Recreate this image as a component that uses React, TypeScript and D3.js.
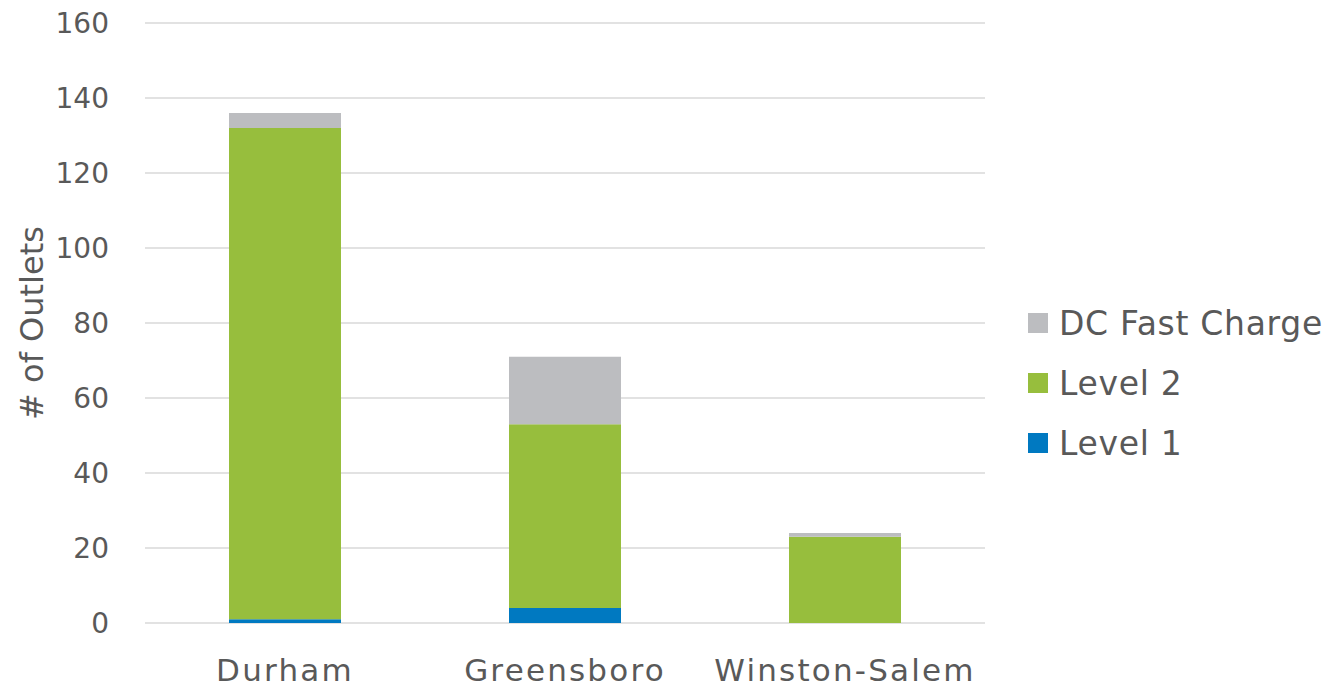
import React from "react";
import * as d3 from "d3";

const categories = ["Durham", "Greensboro", "Winston-Salem"];
const level1 = [1, 4, 0];
const level2 = [131, 49, 23];
const dcFast = [4, 18, 1];
const seriesNames = ["Level 1", "Level 2", "DC Fast Charge"];
const seriesColors = ["#0079C1", "#97BE3D", "#BCBDC0"];
const yTicks = [0, 20, 40, 60, 80, 100, 120, 140, 160];

const W = 1342;
const H = 693;
const plotLeft = 145;
const plotRight = 985;
const plotTop = 23;
const plotBottom = 623;
const FONT = "'DejaVu Sans', sans-serif";
const TEXT = "#595959";

export default function App() {
  const x = d3.scaleBand<string>().domain(categories).range([plotLeft, plotRight]).paddingInner(0.6).paddingOuter(0.3);
  const y = d3.scaleLinear().domain([0, 160]).range([plotBottom, plotTop]);

  const table = categories.map((c, i) => ({ cat: c, "Level 1": level1[i], "Level 2": level2[i], "DC Fast Charge": dcFast[i] }));
  const stack = d3.stack<any>().keys(seriesNames)(table);

  const legendOrder = [2, 1, 0];
  const legendY = [323, 383, 443];

  return (
    <svg width={W} height={H} style={{ position: "absolute", left: 0, top: 0, background: "#fff" }}>
      {yTicks.map((t) => (
        <g key={t}>
          <line x1={plotLeft} x2={plotRight} y1={y(t)} y2={y(t)} stroke="#D9D9D9" strokeWidth={1.5} />
          <text x={109} y={y(t)} dy="0.36em" textAnchor="end" fontFamily={FONT} fontSize={28} fill={TEXT}>
            {t}
          </text>
        </g>
      ))}
      {stack.map((s, si) => (
        <g key={s.key} fill={seriesColors[si]}>
          {s.map((d, i) => (
            <rect
              key={i}
              x={x(categories[i])}
              width={x.bandwidth()}
              y={y(d[1])}
              height={Math.max(0, y(d[0]) - y(d[1]))}
            />
          ))}
        </g>
      ))}
      {categories.map((c) => (
        <text key={c} x={(x(c) as number) + x.bandwidth() / 2} y={670} dy="0.36em" textAnchor="middle" fontFamily={FONT} fontSize={31} letterSpacing={2.2} fill={TEXT}>
          {c}
        </text>
      ))}
      <text
        transform={`translate(31, ${(plotTop + plotBottom) / 2}) rotate(-90)`}
        textAnchor="middle"
        dy="0.36em"
        fontFamily={FONT}
        fontSize={32}
        fill={TEXT}
      >
        # of Outlets
      </text>
      {legendOrder.map((si, k) => (
        <g key={si}>
          <rect x={1028} y={legendY[k] - 10} width={20} height={20} fill={seriesColors[si]} />
          <text x={1059} y={legendY[k]} dy="0.36em" fontFamily={FONT} fontSize={33} letterSpacing={0.7} fill={TEXT}>
            {seriesNames[si]}
          </text>
        </g>
      ))}
    </svg>
  );
}
